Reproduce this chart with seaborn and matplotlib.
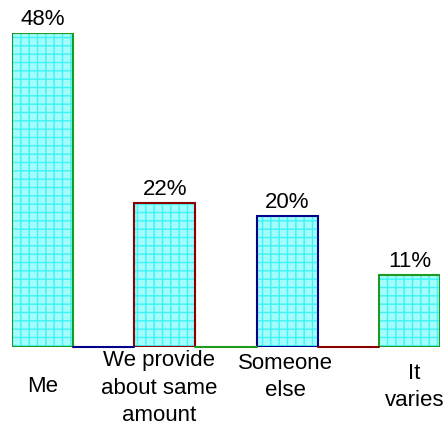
import numpy as np
import matplotlib.pyplot as plt
import seaborn as sns

sns.set_style("white")
plt.rcParams['font.family'] = ['Liberation Sans', 'DejaVu Sans']
plt.rcParams['hatch.linewidth'] = 1.0
plt.rcParams['text.color'] = 'black'

categories = ["Me", "We provide\nabout same\namount", "Someone\nelse", "It\nvaries"]
values = [48, 22, 20, 11]
value_labels = ["48%", "22%", "20%", "11%"]

edge_colors = ["#1e9a1e", "#8b0000", "#00008b", "#1e9a1e"]
gap_colors = ["#00008b", "#1e9a1e", "#8b0000"]
# pixel offsets for category text (dx, dy)
label_offsets = [(0, -40), (-6, -41), (-2, -30), (5, -40)]

fig = plt.figure(figsize=(4.46, 4.25), dpi=100)
ax = fig.add_axes([12 / 446, 78 / 425, 428 / 446, 314 / 425])

sns.barplot(x=list(range(len(values))), y=values, color="#a4fcfc",
            saturation=1, width=0.5, ax=ax)
for p in ax.patches:
    p.set_hatch("++")
    p.set_edgecolor("#3ef4f4")
    p.set_linewidth(0)

# coloured outlines on top
ax.bar(range(len(values)), values, width=0.5, fill=False,
       edgecolor=edge_colors, linewidth=1.5, zorder=3)

# baseline pieces between bars
for i, c in enumerate(gap_colors):
    ax.plot([i + 0.25, i + 0.75], [0, 0], color=c, lw=1.5, clip_on=False, zorder=3)

for i, (v, t) in enumerate(zip(values, value_labels)):
    ax.annotate(t, xy=(i, v), xytext=(0, 3), textcoords="offset pixels",
                ha="center", va="bottom", fontsize=16, color="black",
                annotation_clip=False)

for i, (cat, (dx, dy)) in enumerate(zip(categories, label_offsets)):
    ax.annotate(cat, xy=(i, 0), xytext=(dx, dy), textcoords="offset pixels",
                ha="center", va="center", fontsize=16, linespacing=1.4,
                color="black", annotation_clip=False)

ax.set_xlim(-0.25, 3.25)
ax.set_ylim(0, 48)
ax.set_xticks([])
ax.set_yticks([])
ax.set_xlabel("")
for s in ax.spines.values():
    s.set_visible(False)

fig.savefig("out.png", dpi=100)
